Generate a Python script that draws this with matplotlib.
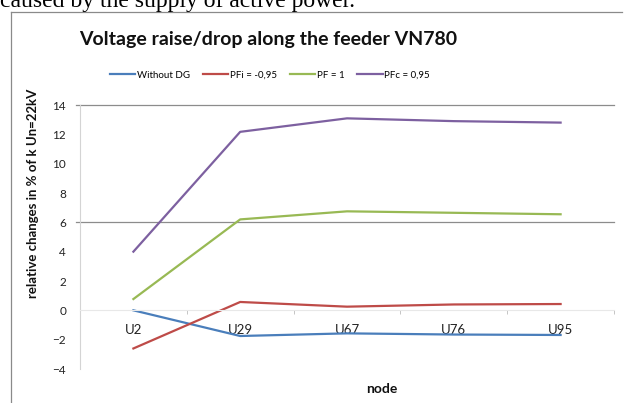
import matplotlib
matplotlib.use("Agg")
import matplotlib.pyplot as plt
from matplotlib.lines import Line2D

nodes = ["U2", "U29", "U67", "U76", "U95"]
without_dg = [0.0, -1.75, -1.57, -1.65, -1.68]
pfi_neg = [-2.6, 0.57, 0.25, 0.40, 0.43]
pf_one = [0.77, 6.2, 6.75, 6.65, 6.55]
pfc = [4.0, 12.17, 13.09, 12.9, 12.8]

series = [
    ("Without DG", without_dg, "#4a7ebb"),
    ("PFi = -0,95", pfi_neg, "#be4b48"),
    ("PF = 1", pf_one, "#98b954"),
    ("PFc = 0,95", pfc, "#7d60a0"),
]

plt.rcParams["font.family"] = ["Lato", "DejaVu Sans"]

fig = plt.figure(figsize=(6.25, 4.03), dpi=100)
ax = fig.add_axes([80 / 625, 1 - 369 / 403, 534 / 625, 264 / 403])

x = list(range(len(nodes)))
for name, vals, col in series:
    ax.plot(x, vals, color=col, lw=1.6, label=name)

ax.set_xlim(-0.5, len(nodes) - 0.5)
ax.set_ylim(-4, 14)
ax.set_yticks(range(-4, 15, 2))
ax.tick_params(axis="y", length=0, labelsize=8.5, pad=10, labelcolor="#222222")

# category labels under the zero line, small ticks on the boundaries
ax.spines["bottom"].set_position(("data", 0))
ax.spines["bottom"].set_color("#e8e8e8")
ax.set_xticks(x)
ax.set_xticklabels(nodes)
ax.set_xticks([i + 0.5 for i in x], minor=True)
ax.tick_params(axis="x", which="major", length=0, labelsize=9.5, pad=10, labelcolor="#222222")
ax.tick_params(axis="x", which="minor", length=3, color="#bbbbbb", direction="out")

for s in ["top", "right"]:
    ax.spines[s].set_visible(False)
ax.spines["left"].set_color("#d4d4d4")

for g in [14, 6]:
    ax.plot([-0.008, 1], [g, g], transform=ax.get_yaxis_transform(), color="#8c8c8c",
            lw=0.9, clip_on=False, zorder=0)

fig.text(33 / 625, 1 - 193 / 403, "relative changes in % of k Un=22kV", rotation=90,
         ha="center", va="center", fontsize=9.5, fontweight="bold", color="#111111")
fig.text(382 / 625, 1 - 389 / 403, "node", ha="center", va="center",
         fontsize=10, fontweight="bold", color="#111111")

fig.text(268 / 625, 1 - 40 / 403, "Voltage raise/drop along the feeder VN780",
         ha="center", va="center", fontsize=14, fontweight="bold", color="#111111")

ax.legend(loc="center", bbox_to_anchor=(270 / 625, 1 - 75 / 403), bbox_transform=fig.transFigure,
          ncol=4, frameon=False, fontsize=7, handlelength=2.6, handletextpad=0.2,
          columnspacing=1.3)

# frame of the chart and the cut-off line of text above it
fig.add_artist(Line2D([11 / 625, 11 / 625], [0, 1 - 12 / 403], color="#8a8a8a", lw=0.9))
fig.add_artist(Line2D([11 / 625, 622 / 625], [1 - 12 / 403, 1 - 12 / 403], color="#8a8a8a", lw=0.9))
fig.text(0.0, 1 - 7 / 403, "caused by the supply of active power.", family="Liberation Serif",
         fontsize=17, va="baseline", ha="left")

fig.savefig("out.png", dpi=100)
